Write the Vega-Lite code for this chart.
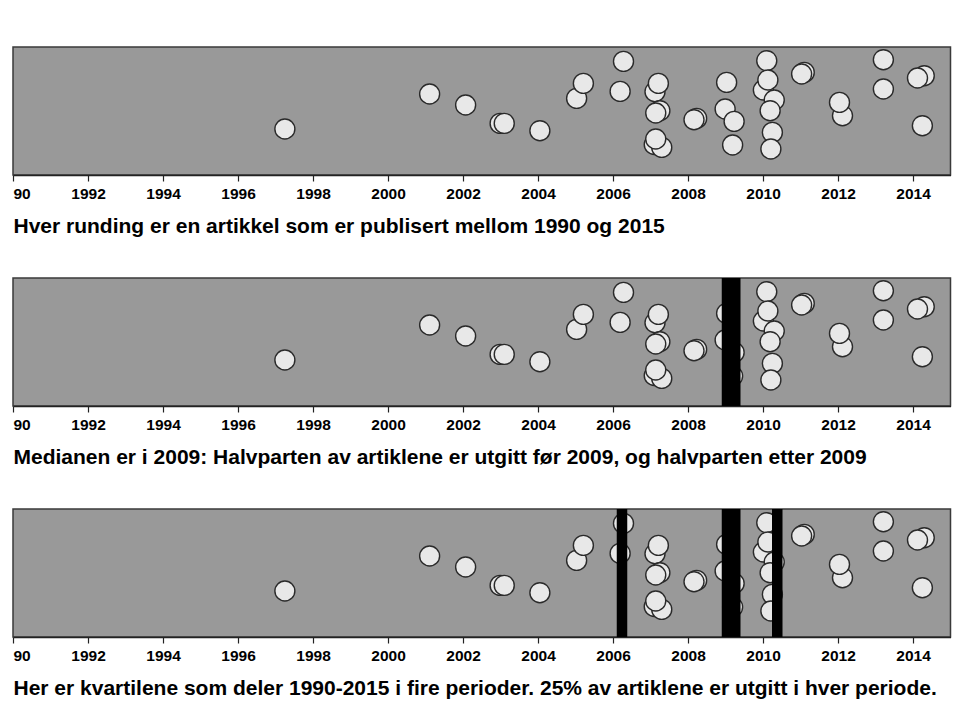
{
  "$schema": "https://vega.github.io/schema/vega-lite/v6.json",
  "padding": {"left": 11, "top": 46, "right": 11, "bottom": 10},
  "background": "white",
  "datasets": {
    "points": [
      {"year": 1997.25, "jitter": 46},
      {"year": 2001.11, "jitter": 81},
      {"year": 2002.07, "jitter": 70},
      {"year": 2002.99, "jitter": 51.6},
      {"year": 2003.10, "jitter": 51.6},
      {"year": 2004.05, "jitter": 44.3},
      {"year": 2005.03, "jitter": 76.6},
      {"year": 2005.21, "jitter": 91.6},
      {"year": 2006.19, "jitter": 83.6},
      {"year": 2006.28, "jitter": 113.6},
      {"year": 2007.12, "jitter": 83.3},
      {"year": 2007.21, "jitter": 91.6},
      {"year": 2007.25, "jitter": 64.3},
      {"year": 2007.14, "jitter": 62},
      {"year": 2007.10, "jitter": 30.5},
      {"year": 2007.30, "jitter": 27.6},
      {"year": 2007.14, "jitter": 36},
      {"year": 2008.23, "jitter": 56.6},
      {"year": 2008.16, "jitter": 55.3},
      {"year": 2009.03, "jitter": 92.6},
      {"year": 2008.99, "jitter": 66},
      {"year": 2009.23, "jitter": 53.6},
      {"year": 2009.19, "jitter": 30},
      {"year": 2010.10, "jitter": 114.3},
      {"year": 2010.01, "jitter": 85},
      {"year": 2010.13, "jitter": 95},
      {"year": 2010.30, "jitter": 75},
      {"year": 2010.19, "jitter": 64.3},
      {"year": 2010.25, "jitter": 42.6},
      {"year": 2010.21, "jitter": 26},
      {"year": 2011.10, "jitter": 102.6},
      {"year": 2011.03, "jitter": 101},
      {"year": 2012.12, "jitter": 59.3},
      {"year": 2012.04, "jitter": 72.6},
      {"year": 2013.21, "jitter": 115.3},
      {"year": 2013.21, "jitter": 86},
      {"year": 2014.30, "jitter": 99.3},
      {"year": 2014.12, "jitter": 97},
      {"year": 2014.25, "jitter": 49.3}
    ],
    "median": [
      {"start": 2008.90, "end": 2009.40}
    ],
    "quartiles": [
      {"start": 2006.10, "end": 2006.38},
      {"start": 2008.90, "end": 2009.40},
      {"start": 2010.24, "end": 2010.52}
    ]
  },
  "config": {
    "view": {"fill": "#999999", "stroke": "#3a3a3a", "strokeWidth": 1.5},
    "axisX": {
      "grid": false,
      "domainColor": "#222222",
      "domainWidth": 1.5,
      "tickColor": "#222222",
      "tickWidth": 1.2,
      "tickSize": 6,
      "labelFont": "Liberation Sans",
      "labelFontWeight": "bold",
      "labelFontSize": 15.5,
      "labelColor": "#000000",
      "labelPadding": 5,
      "labelFlush": true,
      "titleFont": "Liberation Sans",
      "titleFontWeight": "bold",
      "titleFontSize": 21,
      "titleColor": "#000000",
      "titleAnchor": "start",
      "titleAlign": "left",
      "titleBaseline": "alphabetic",
      "titleX": 0,
      "titleY": 57
    }
  },
  "spacing": 103,
  "bounds": "flush",
  "vconcat": [
    {
      "width": 937.5,
      "height": 128,
      "layer": [
        {
          "data": {"name": "points"},
          "mark": {"type": "circle", "size": 400, "fill": "#e8e8e8", "fillOpacity": 1, "stroke": "#2a2a2a", "strokeWidth": 1.4},
          "encoding": {
            "x": {"field": "year", "type": "quantitative", "scale": {"domain": [1990, 2015], "nice": false, "zero": false},
                  "axis": {"values": [1990,1992,1994,1996,1998,2000,2002,2004,2006,2008,2010,2012,2014], "format": "d",
                           "labelExpr": "datum.value == 1990 ? '90' : datum.label",
                           "title": "Hver runding er en artikkel som er publisert mellom 1990 og 2015"}},
            "y": {"field": "jitter", "type": "quantitative", "scale": {"domain": [0, 128], "nice": false, "zero": false}, "axis": null}
          }
        }
      ]
    },
    {
      "width": 937.5,
      "height": 128,
      "layer": [
        {
          "data": {"name": "points"},
          "mark": {"type": "circle", "size": 400, "fill": "#e8e8e8", "fillOpacity": 1, "stroke": "#2a2a2a", "strokeWidth": 1.4},
          "encoding": {
            "x": {"field": "year", "type": "quantitative", "scale": {"domain": [1990, 2015], "nice": false, "zero": false},
                  "axis": {"values": [1990,1992,1994,1996,1998,2000,2002,2004,2006,2008,2010,2012,2014], "format": "d",
                           "labelExpr": "datum.value == 1990 ? '90' : datum.label",
                           "title": "Medianen er i 2009: Halvparten av artiklene er utgitt før 2009, og halvparten etter 2009"}},
            "y": {"field": "jitter", "type": "quantitative", "scale": {"domain": [0, 128], "nice": false, "zero": false}, "axis": null}
          }
        },
        {
          "data": {"name": "median"},
          "mark": {"type": "rect", "color": "#000000"},
          "encoding": {
            "x": {"field": "start", "type": "quantitative"},
            "x2": {"field": "end"}
          }
        }
      ]
    },
    {
      "width": 937.5,
      "height": 128,
      "layer": [
        {
          "data": {"name": "points"},
          "mark": {"type": "circle", "size": 400, "fill": "#e8e8e8", "fillOpacity": 1, "stroke": "#2a2a2a", "strokeWidth": 1.4},
          "encoding": {
            "x": {"field": "year", "type": "quantitative", "scale": {"domain": [1990, 2015], "nice": false, "zero": false},
                  "axis": {"values": [1990,1992,1994,1996,1998,2000,2002,2004,2006,2008,2010,2012,2014], "format": "d",
                           "labelExpr": "datum.value == 1990 ? '90' : datum.label",
                           "title": "Her er kvartilene som deler 1990-2015 i fire perioder. 25% av artiklene er utgitt i hver periode."}},
            "y": {"field": "jitter", "type": "quantitative", "scale": {"domain": [0, 128], "nice": false, "zero": false}, "axis": null}
          }
        },
        {
          "data": {"name": "quartiles"},
          "mark": {"type": "rect", "color": "#000000"},
          "encoding": {
            "x": {"field": "start", "type": "quantitative"},
            "x2": {"field": "end"}
          }
        }
      ]
    }
  ]
}
